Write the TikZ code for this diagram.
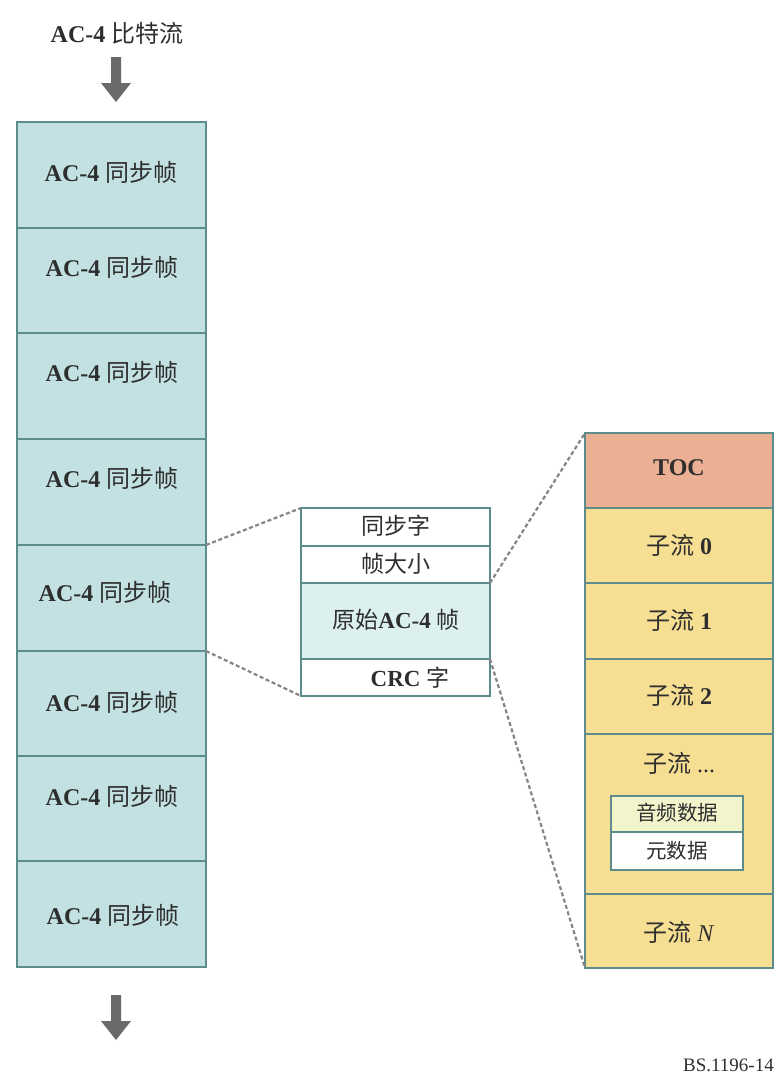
\documentclass[tikz,border=0pt]{standalone}
\usepackage{fontspec}
\setmainfont{Liberation Serif}
\newfontfamily\cjk{Noto Sans CJK SC}
\newcommand\zh[1]{{\cjk #1}}
\definecolor{frame}{HTML}{5C8C8B}
\definecolor{leftfill}{HTML}{C3E1E2}
\definecolor{rawfill}{HTML}{DCF0EF}
\definecolor{tocfill}{HTML}{EBAF93}
\definecolor{subfill}{HTML}{F6DE93}
\definecolor{audfill}{HTML}{F2F5CC}
\definecolor{txt}{HTML}{2E2E2E}
\definecolor{arrowgray}{HTML}{6A6A6A}
\definecolor{dashgray}{HTML}{858585}
\tikzset{
  cell/.style={draw=frame, anchor=north west, inner sep=0pt, outer sep=0pt},
  lcell/.style={cell, line width=2.6pt, fill=leftfill, minimum width=189pt},
  mcell/.style={cell, line width=2.2pt, fill=white, minimum width=189pt},
  rcell/.style={cell, line width=2pt, fill=subfill, minimum width=188pt},
  icell/.style={cell, line width=2pt, fill=white, minimum width=132pt},
  lbl/.style={text=txt, font=\fontsize{24}{27}\selectfont, inner sep=0pt},
  mlbl/.style={text=txt, font=\fontsize{23}{26}\selectfont, inner sep=0pt},
  slbl/.style={text=txt, font=\fontsize{20.5}{23}\selectfont, inner sep=0pt},
  zoomline/.style={dashgray, line width=2.2pt, dash pattern=on 4pt off 2.6pt},
  bigarrow/.style={fill=arrowgray, draw=none}
}
\begin{document}
\begin{tikzpicture}[x=1pt, y=-1pt]
\useasboundingbox (0,0) rectangle (775,1076);
\fill[white] (0,0) rectangle (775,1076);

% title and arrows
\node[lbl] (title) at (117,33) {\textbf{AC-4} \zh{比特流}};
\fill[bigarrow] (111,57) -- (121,57) -- (121,83) -- (131,83) -- (116,102) -- (101,83) -- (111,83) -- cycle;
\fill[bigarrow] (111,995) -- (121,995) -- (121,1021) -- (131,1021) -- (116,1040) -- (101,1021) -- (111,1021) -- cycle;

% left column
\node[lcell, minimum height=106pt] (L1) at (17,122) {};
\node[lcell, minimum height=105pt] (L2) at (17,228) {};
\node[lcell, minimum height=106pt] (L3) at (17,333) {};
\node[lcell, minimum height=106pt] (L4) at (17,439) {};
\node[lcell, minimum height=106pt] (L5) at (17,545) {};
\node[lcell, minimum height=105pt] (L6) at (17,651) {};
\node[lcell, minimum height=105pt] (L7) at (17,756) {};
\node[lcell, minimum height=106pt] (L8) at (17,861) {};
\node[lbl] (t1) at (111,172) {\textbf{AC-4} \zh{同步帧}};
\node[lbl] (t2) at (112,267) {\textbf{AC-4} \zh{同步帧}};
\node[lbl] (t3) at (112,372) {\textbf{AC-4} \zh{同步帧}};
\node[lbl] (t4) at (112,478) {\textbf{AC-4} \zh{同步帧}};
\node[lbl] (t5) at (105,592) {\textbf{AC-4} \zh{同步帧}};
\node[lbl] (t6) at (112,702) {\textbf{AC-4} \zh{同步帧}};
\node[lbl] (t7) at (112,796) {\textbf{AC-4} \zh{同步帧}};
\node[lbl] (t8) at (113,915) {\textbf{AC-4} \zh{同步帧}};

% middle frame
\node[mcell, minimum height=38pt] (M1) at (301,508) {};
\node[mcell, minimum height=37pt] (M2) at (301,546) {};
\node[mcell, minimum height=76pt, fill=rawfill] (M3) at (301,583) {};
\node[mcell, minimum height=37pt] (M4) at (301,659) {};
\node[mlbl] (m1) at (396,526) {\zh{同步字}};
\node[mlbl] (m2) at (396,564) {\zh{帧大小}};
\node[mlbl] (m3) at (396,620) {\zh{原始}\textbf{AC-4} \zh{帧}};
\node[mlbl] (m4) at (410,678) {\textbf{CRC} \zh{字}};

% right column
\node[rcell, minimum height=75pt, fill=tocfill] (R0) at (585,433) {};
\node[rcell, minimum height=75pt] (R1) at (585,508) {};
\node[rcell, minimum height=76pt] (R2) at (585,583) {};
\node[rcell, minimum height=75pt] (R3) at (585,659) {};
\node[rcell, minimum height=160pt] (R4) at (585,734) {};
\node[rcell, minimum height=74pt] (R5) at (585,894) {};
\node[lbl] (r0) at (679,468) {\textbf{TOC}};
\node[lbl] (r1) at (679,545) {\zh{子流} \textbf{0}};
\node[lbl] (r2) at (679,620) {\zh{子流} \textbf{1}};
\node[lbl] (r3) at (679,695) {\zh{子流} \textbf{2}};
\node[lbl] (r4) at (679,763) {\zh{子流} ...};
\node[lbl] (r5) at (679,932) {\zh{子流} \textit{N}};
\node[icell, minimum height=36pt, fill=audfill] (A1) at (611,796) {};
\node[icell, minimum height=38pt] (A2) at (611,832) {};
\node[slbl] (a1) at (677,813) {\zh{音频数据}};
\node[slbl] (a2) at (677,851) {\zh{元数据}};

% zoom connectors
\draw[zoomline] (L5.north east) -- (M1.north west);
\draw[zoomline] (L6.north east) -- (M4.south west);
\draw[zoomline] (M3.north east) -- (R0.north west);
\draw[zoomline] (M4.north east) -- (R5.south west);

\node[text=txt, font=\fontsize{19}{21}\selectfont, inner sep=0pt, anchor=base east] (code) at (774,1071) {BS.1196-14};
\end{tikzpicture}
\end{document}
